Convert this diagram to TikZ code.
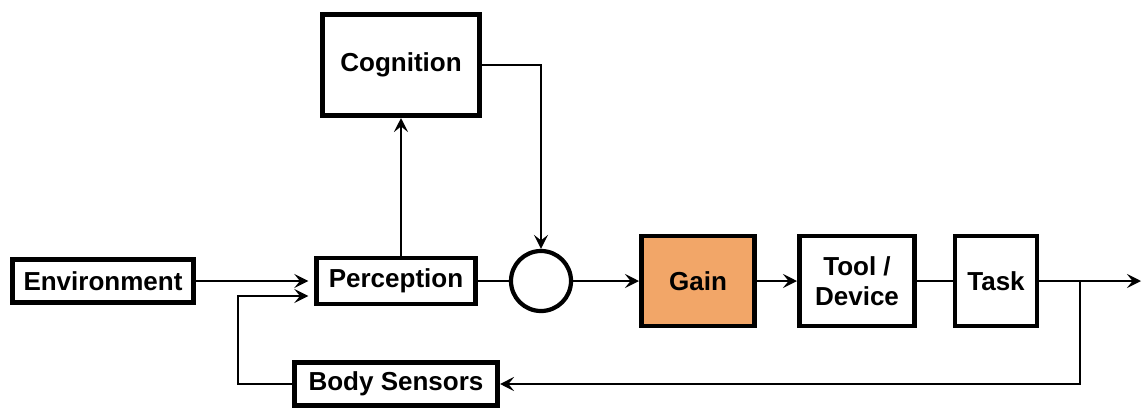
\documentclass[tikz,border=0pt]{standalone}
\usepackage{fontspec}
\setmainfont{Liberation Sans}
\usetikzlibrary{arrows.meta}

\definecolor{gainorange}{RGB}{242,166,104}

\tikzset{
  block/.style={draw, line width=3.4pt, inner sep=0pt, align=center,
    font=\fontsize{18.5}{21}\selectfont\bfseries},
  sumnode/.style={draw, circle, line width=3pt, minimum size=1.5cm, inner sep=0pt},
  arr/.style={line width=1.8pt, -{Stealth[length=10pt, width=10pt, inset=4pt]}},
  wire/.style={line width=1.8pt}
}

\begin{document}
\begin{tikzpicture}[x=0.025cm, y=-0.025cm]
  \useasboundingbox (0,0) rectangle (1144,409);
  % blocks
  \node[block, minimum width=4.53cm, minimum height=1.08cm] (env) at (103,281) {Environment};
  \node[block, minimum width=3.98cm, minimum height=1.15cm] (perc) at (396,281) {Perception};
  \node[block, minimum width=3.93cm, minimum height=2.53cm] (cog) at (401,65) {Cognition};
  \node[block, minimum width=5.08cm, minimum height=1.08cm] (bsens) at (396,384) {Body Sensors};
  \node[sumnode] (sum) at (541,281) {};
  \node[block, fill=gainorange, minimum width=2.83cm, minimum height=2.25cm] (gain) at (698,281) {Gain};
  \node[block, minimum width=2.88cm, minimum height=2.25cm] (tool) at (857,281) {Tool /\\Device};
  \node[block, minimum width=2.05cm, minimum height=2.25cm] (task) at (996,281) {Task};
  \coordinate (out) at (1141,281);
  \coordinate (tap) at (1080,281);
  % forward path
  \draw[arr] (env) -- ([xshift=-4pt]perc.west);
  \draw[arr] (cog.south |- perc.north) -- (cog.south);
  \draw[arr, line width=1.3pt] (cog.east) -| (sum.north);
  \draw[wire] (perc) -- (sum);
  \draw[arr] (sum) -- (gain);
  \draw[arr] (gain) -- (tool);
  \draw[wire] (tool) -- (task);
  \draw[arr] (task) -- (out);
  % feedback
  \draw[arr] (tap) |- (bsens.east);
  \draw[arr] (bsens.west) -- ++(-54,0) |- ([xshift=-4pt, yshift=-15*0.025cm]perc.west);
\end{tikzpicture}
\end{document}
